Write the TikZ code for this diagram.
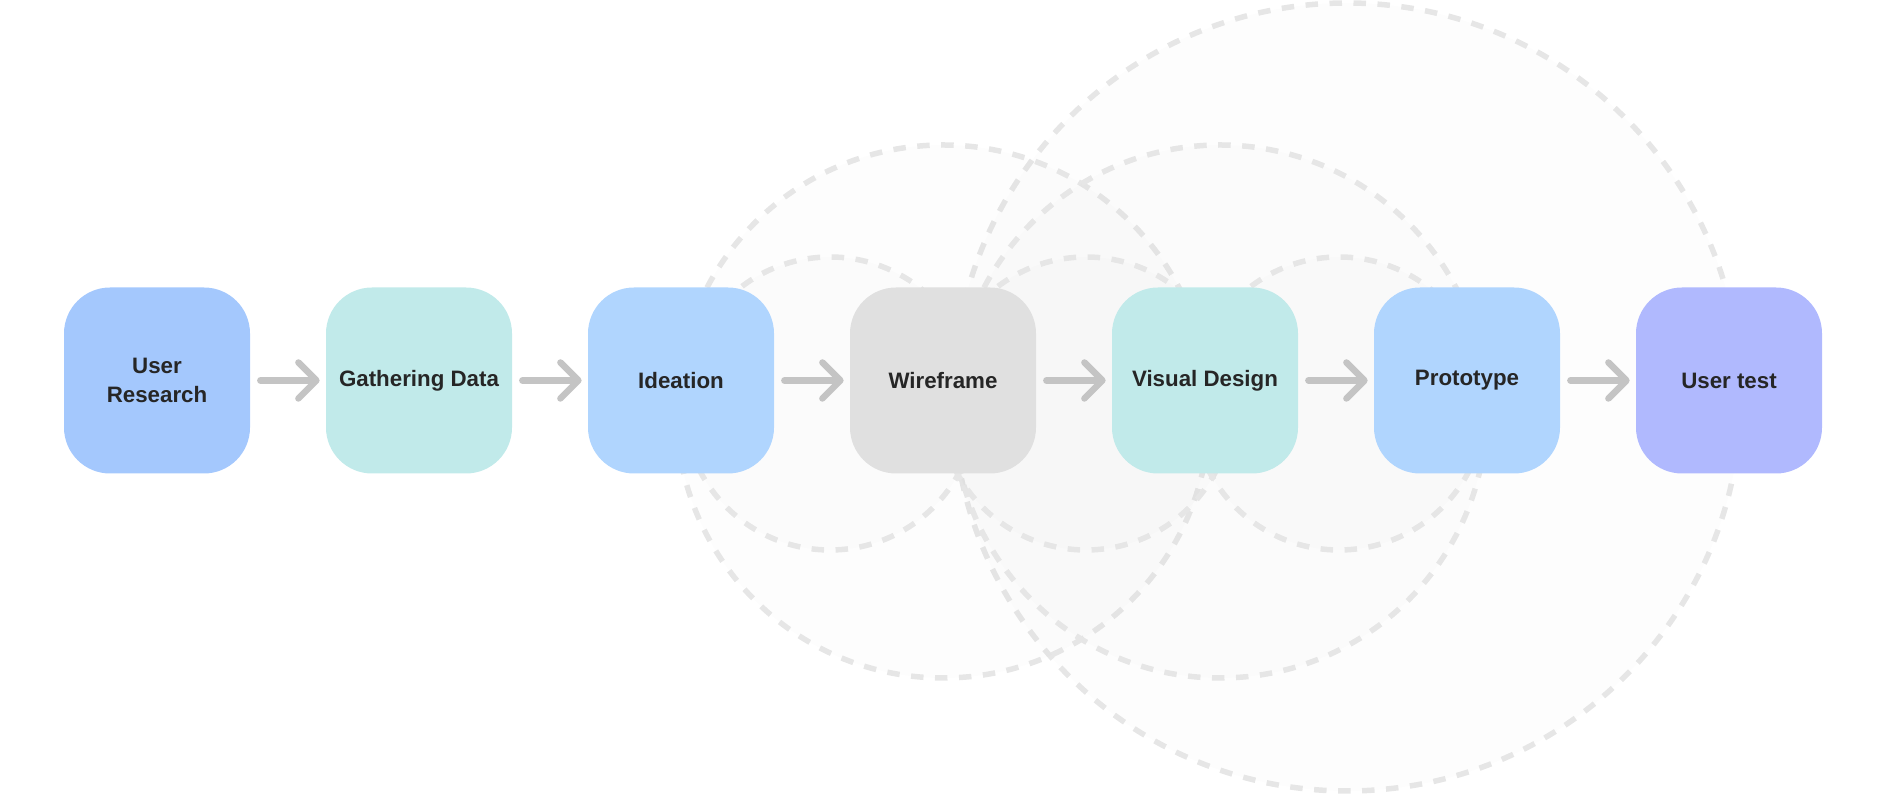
\documentclass[tikz,border=0pt]{standalone}
\usepackage{fontspec}
\setmainfont{Liberation Sans}
\usepackage{tikz}
\usetikzlibrary{arrows.meta}
\definecolor{ringgray}{HTML}{E6E6E6}
\definecolor{arrowgray}{HTML}{C4C4C4}
\definecolor{txtdark}{HTML}{262626}
\definecolor{skyblue}{HTML}{A4C8FD}
\definecolor{paleblue}{HTML}{B0D5FE}
\definecolor{paleteal}{HTML}{C1EAEA}
\definecolor{palegray}{HTML}{E0E0E0}
\definecolor{lavender}{HTML}{B0B9FE}

\begin{document}
\begin{tikzpicture}[
  stage/.style={rectangle, rounded corners=0.92cm, minimum width=3.72cm, minimum height=3.72cm, inner sep=2pt, align=center, text=txtdark, font=\bfseries\fontsize{12.7}{17}\selectfont},
  ring/.style={draw=ringgray, line width=0.11cm, dash pattern=on 0.25cm off 0.23cm, fill=black, fill opacity=0.008},
  flow/.style={-{Straight Barb[length=0.36cm, width=0.72cm, round]}, line width=0.13cm, line cap=round, arrowgray, shorten <=0.2cm, shorten >=0.12cm}
]
\useasboundingbox (0,0) rectangle (37.72,15.88);

% ===== Dashed rings behind the flow =====
\draw[ring] (26.94,7.94) circle (7.88);
\foreach \cx in {18.86,24.40}{\draw[ring] (\cx,7.65) circle (5.33);}
\foreach \cx in {16.60,21.72,26.78}{\draw[ring] (\cx,7.81) circle (2.93);}

% ===== Stages =====
\node[stage, fill=skyblue]   (research) at (3.14, 8.27)  {User\\Research};
\node[stage, fill=paleteal]  (gather)   at (8.38, 8.27)  {Gathering Data};
\node[stage, fill=paleblue]  (ideation) at (13.62, 8.27) {Ideation};
\node[stage, fill=palegray]  (wire)     at (18.86, 8.27) {Wireframe};
\node[stage, fill=paleteal]  (visual)   at (24.10, 8.27) {Visual Design};
\node[stage, fill=paleblue]  (proto)    at (29.34, 8.27) {Prototype};
\node[stage, fill=lavender]  (usertest) at (34.58, 8.27) {User test};

% ===== Flow arrows =====
\foreach \a/\b in {research/gather, gather/ideation, ideation/wire, wire/visual, visual/proto, proto/usertest}{
  \draw[flow] (\a.east) -- (\b.west);
}

\end{tikzpicture}
\end{document}
